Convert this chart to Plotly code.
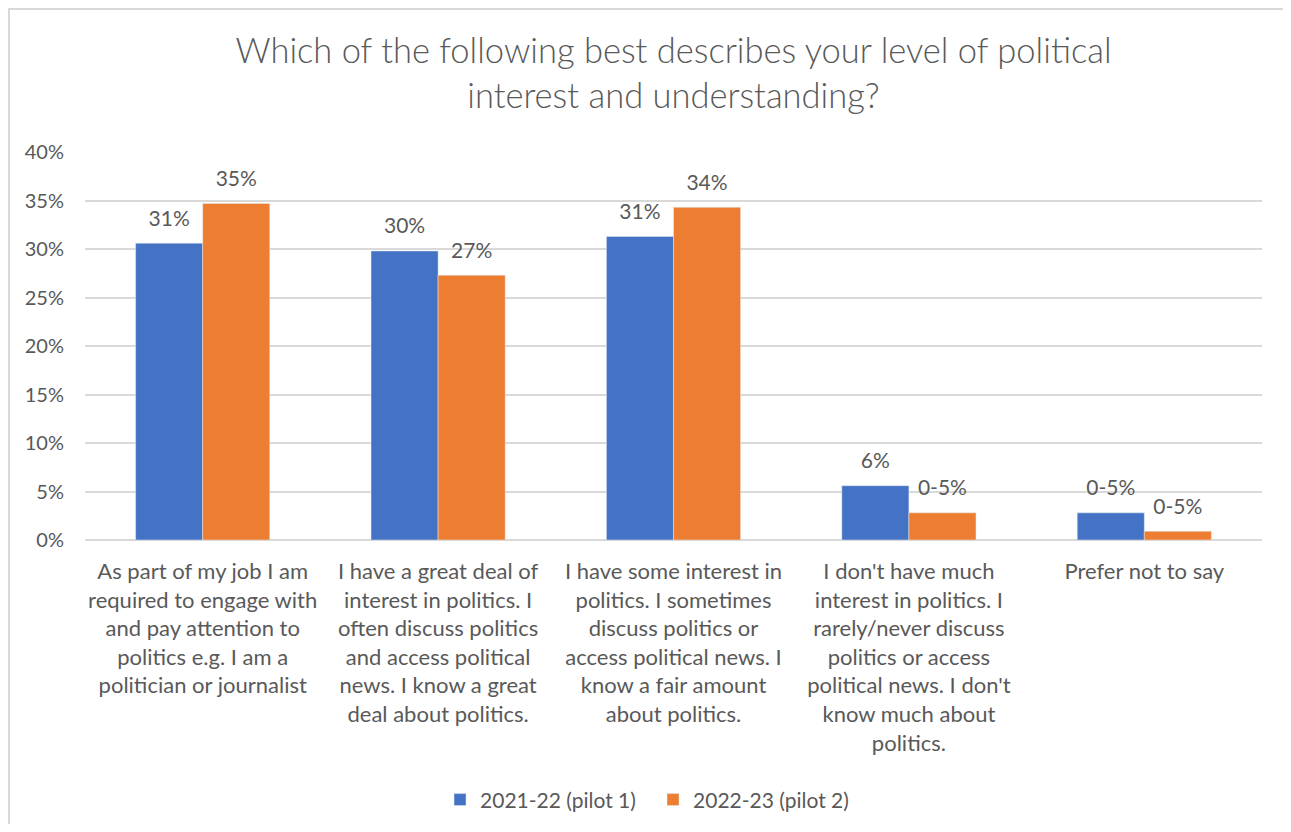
import plotly.graph_objects as go

categories = [
    "As part of my job I am<br>required to engage with<br>and pay attention to<br>politics e.g. I am a<br>politician or journalist",
    "I have a great deal of<br>interest in politics. I<br>often discuss politics<br>and access political<br>news. I know a great<br>deal about politics.",
    "I have some interest in<br>politics. I sometimes<br>discuss politics or<br>access political news. I<br>know a fair amount<br>about politics.",
    "I don't have much<br>interest in politics. I<br>rarely/never discuss<br>politics or access<br>political news. I don't<br>know much about<br>politics.",
    "Prefer not to say",
]
pilot1 = [30.6, 29.8, 31.3, 5.6, 2.8]
pilot2 = [34.7, 27.3, 34.3, 2.8, 0.9]
pilot1_labels = ["31%", "30%", "31%", "6%", "0-5%"]
pilot2_labels = ["35%", "27%", "34%", "0-5%", "0-5%"]

# page has an 8px body margin, so the figure is a bit smaller than the window
W, H = 1275, 816
ml, mr, mt, mb = 77, 21, 144, 284
font = "Lato, 'Open Sans', sans-serif"
grey = "#595959"

fig = go.Figure()
fig.add_trace(go.Bar(x=categories, y=pilot1, name="2021-22 (pilot 1)",
                     marker_color="#4472C4"))
fig.add_trace(go.Bar(x=categories, y=pilot2, name="2022-23 (pilot 2)",
                     marker_color="#ED7D31"))
# data labels, grouped the same way as the bars so they sit a bit above them
for vals, labels in [(pilot1, pilot1_labels), (pilot2, pilot2_labels)]:
    fig.add_trace(go.Scatter(x=categories, y=vals, mode="markers+text", text=labels,
                             textposition="top center", showlegend=False,
                             marker=dict(size=18, opacity=0), hoverinfo="skip",
                             cliponaxis=False,
                             textfont=dict(size=21, color=grey, family=font)))

# chart border (only top and left edges are visible in the crop)
pw = W - ml - mr
ph = H - mt - mb
fig.add_shape(type="rect", xref="paper", yref="paper",
              x0=(1 - ml) / pw, x1=(W + 40 - ml) / pw,
              y0=-(H + 40 - mt - ph) / ph, y1=1 + (mt - 1) / ph,
              line=dict(color="#d9d9d9", width=2), fillcolor="rgba(0,0,0,0)")

fig.update_layout(
    width=W, height=H,
    margin=dict(l=ml, r=mr, t=mt, b=mb, autoexpand=False),
    paper_bgcolor="white", plot_bgcolor="white",
    barmode="group", bargap=0.43, bargroupgap=0,
    scattermode="group", scattergap=0.43,
    title=dict(text="Which of the following best describes your level of political<br>interest and understanding?",
               x=0.5, xanchor="center", xref="paper", y=0.933, yanchor="top",
               font=dict(size=34.5, color=grey, family=font, weight=300)),
    font=dict(family=font, color=grey, size=20),
    legend=dict(orientation="h", x=0.4826, xanchor="center", y=-0.67, yanchor="middle",
                font=dict(size=21, color=grey), traceorder="normal", entrywidth=168),
)
fig.update_yaxes(range=[0, 40], dtick=5, ticksuffix="%", showgrid=True,
                 gridcolor="#d9d9d9", gridwidth=1.5, zeroline=True,
                 zerolinecolor="#d9d9d9", zerolinewidth=1.5, automargin=False,
                 tickfont=dict(size=20, color=grey), ticks="", ticklabelstandoff=20)
fig.update_xaxes(tickfont=dict(size=22, color=grey), tickangle=0, ticks="",
                 showline=False, automargin=False, ticklabelstandoff=16)

fig.write_html("out.html")
